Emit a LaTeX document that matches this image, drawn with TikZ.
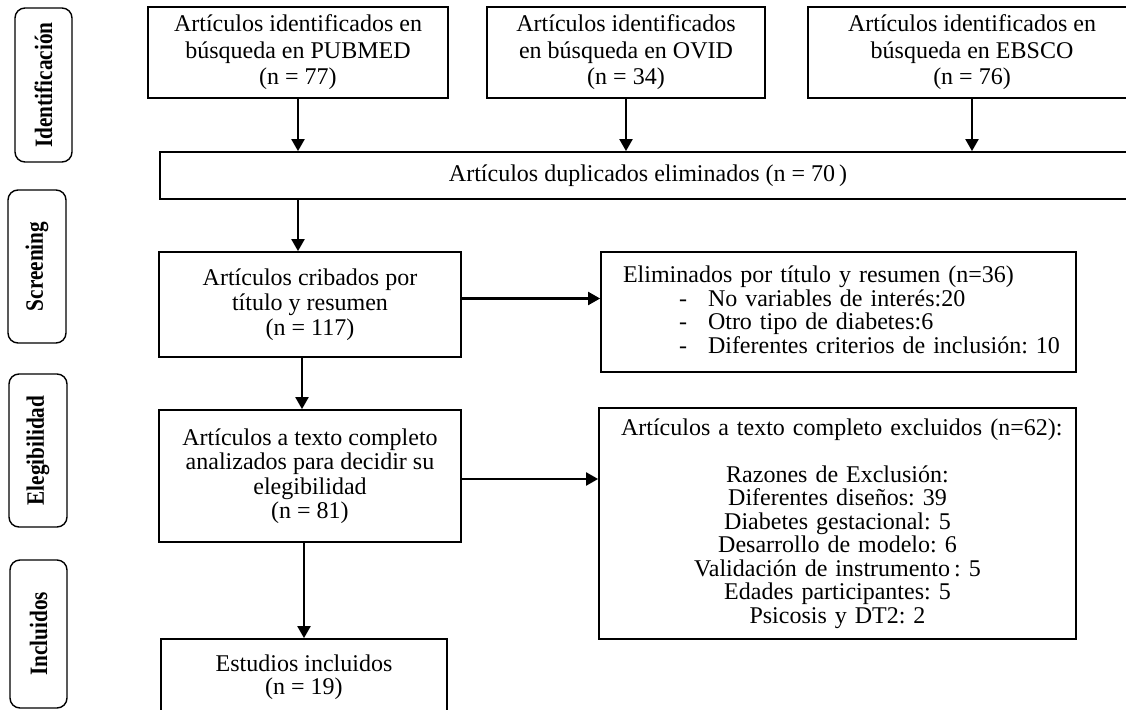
\documentclass[tikz,border=0pt]{standalone}
\usepackage{fontspec}
\setmainfont{Liberation Serif}
\usetikzlibrary{arrows.meta,calc}
\frenchspacing
\begin{document}
\begin{tikzpicture}[x=1pt,y=-1pt,
  box/.style={draw, line width=1.8pt, inner sep=0pt, align=center, font=\frenchspacing\fontsize{24}{26.5}\selectfont},
  lbox/.style={box, font=\frenchspacing\fontsize{24}{25}\selectfont},
  rbox/.style={box, font=\frenchspacing\fontsize{24}{23.5}\selectfont},
  phase/.style={draw, line width=1.4pt, rounded corners=10pt, rotate=90, inner sep=0pt, font=\fontsize{25}{28}\selectfont\bfseries},
  arr/.style={line width=2.2pt, -{Triangle[length=12pt,width=13pt]}}]
\useasboundingbox (0,0) rectangle (1126,709);
\clip (0,0) rectangle (1126,709);

% phase labels
\node[phase, minimum width=154, minimum height=57] (pid) at (43.5,85) {\scalebox{0.85}[1]{Identificación}};
\node[phase, minimum width=153, minimum height=58] (psc) at (37,266.5) {\scalebox{0.85}[1]{Screening}};
\node[phase, minimum width=153, minimum height=58] (pel) at (38,450.5) {\scalebox{0.85}[1]{Elegibilidad}};
\node[phase, minimum width=148, minimum height=57] (pin) at (38.5,634) {\scalebox{0.85}[1]{Incluidos}};

% identification
\node[box, minimum width=300, minimum height=91] (pub) at (298,52.5) {Artículos identificados en\\búsqueda en PUBMED\\(n = 77)};
\node[box, minimum width=278, minimum height=91] (ovid) at (626,52.5) {Artículos identificados\\en búsqueda en OVID\\(n = 34)};
\node[box, minimum width=328, minimum height=91] (ebsco) at (972,52.5) {Artículos identificados en\\búsqueda en EBSCO\\(n = 76)};
\node[box, minimum width=976, minimum height=47] (dup) at (648,175.5) {Artículos duplicados eliminados (n = 70\,)};

% screening
\node[lbox, minimum width=302, minimum height=105] (crib) at (310,304.5) {Artículos cribados por\\título y resumen\\(n = 117)};
\node[rbox, minimum width=475, text width=475, inner xsep=0, minimum height=120, align=left] (elim) at (838.5,312)
  {\hspace*{22pt}Eliminados por título y resumen (n=36)\\
   \hspace*{78pt}\makebox[29pt][l]{-}No variables de interés:20\\
   \hspace*{78pt}\makebox[29pt][l]{-}Otro tipo de diabetes:6\\
   \hspace*{78pt}\makebox[29pt][l]{-}Diferentes criterios de inclusión: 10\\[-19pt]\mbox{}};

% eligibility
\node[rbox, minimum width=302, minimum height=132, font=\frenchspacing\fontsize{24}{24.5}\selectfont] (eleg) at (310,476) {Artículos a texto completo\\analizados para decidir su\\elegibilidad\\(n = 81)};
\node[rbox, minimum width=477, text width=433, inner xsep=22, minimum height=231] (excl) at (837.5,523.5)
  {\makebox[433pt][l]{Artículos a texto completo excluidos (n=62):}\\[23.5pt]
   Razones de Exclusión:\\
   Diferentes diseños: 39\\
   Diabetes gestacional: 5\\
   Desarrollo de modelo: 6\\
   Validación de instrumento\,: 5\\
   Edades participantes: 5\\
   Psicosis y DT2: 2};

% included
\node[box, minimum width=286, minimum height=76, font=\frenchspacing\fontsize{24}{23}\selectfont] (incl) at (304,677) {Estudios incluidos\\(n = 19)};

% connectors
\draw[arr] (pub.south) -- (pub.south |- dup.north);
\draw[arr] (ovid.south) -- (ovid.south |- dup.north);
\draw[arr] (ebsco.south) -- (ebsco.south |- dup.north);
\draw[arr] (dup.south -| pub.south) -- (crib.north -| pub.south);
\draw[arr] ($(crib.south)+(-8,0)$) -- ($(eleg.north)+(-8,0)$);
\draw[arr] (eleg.south -| incl.north) -- (incl.north);
\draw[arr] ($(crib.east)+(0,-6)$) -- ($(crib.east -| elim.west)+(0,-6)$);
\draw[arr] ($(eleg.east)+(0,3)$) -- ($(eleg.east -| excl.west)+(0,3)$);
\end{tikzpicture}
\end{document}
